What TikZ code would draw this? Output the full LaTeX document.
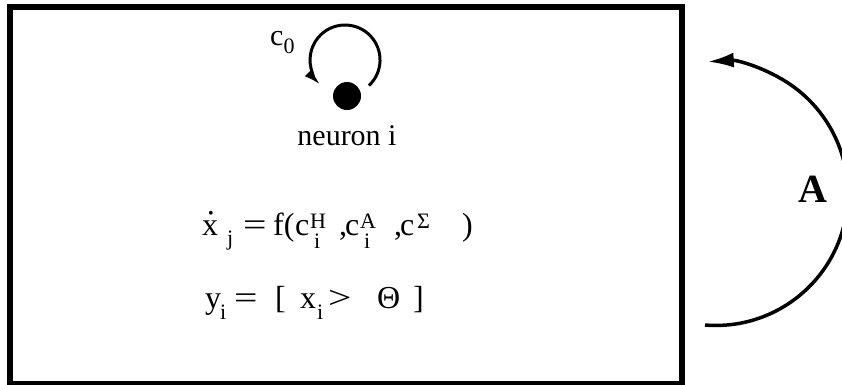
\documentclass[tikz,border=0pt]{standalone}
\usepackage{fontspec}
\setmainfont{Liberation Serif}
\usetikzlibrary{arrows.meta}
\newcommand\scr{\fontsize{22}{22}\selectfont}
\newcommand\lo[2][11pt]{\raisebox{-#1}{\scr #2}}
\newcommand\hi[1]{\raisebox{7pt}{\scr #1}}
\newcommand\sh[2]{\rlap{\hspace{4pt}\lo[13pt]{#1}}\hi{#2}}
\newcommand\pc[2]{\makebox[#1pt][l]{#2}}
\newcommand\wide[1]{\scalebox{1.3}[1]{#1}}
\newcommand\dotx{\rlap{\hspace{6pt}\raisebox{17pt}{\fontsize{16}{16}\selectfont •}}x}
\tikzset{
  frame/.style={draw, line width=6pt},
  txt/.style={inner sep=0pt, font=\fontsize{30}{36}\selectfont},
  eqn/.style={inner sep=0pt, font=\fontsize{32}{38}\selectfont},
  bigA/.style={inner sep=0pt, font=\fontsize{40}{48}\selectfont\bfseries},
  loopline/.style={line width=3pt, -{Latex[length=17pt,width=10pt]}},
  feedback/.style={line width=3.5pt, -{Latex[length=26pt,width=15pt]}}
}
\begin{document}
\begin{tikzpicture}[x=1pt,y=-1pt]
\useasboundingbox (0,0) rectangle (842,384);
\draw[frame] (10,7) rectangle (682,384);
% neuron
\node[circle, fill, inner sep=0pt, minimum size=28pt] (dot) at (347,96) {};
\coordinate (loopstart) at (368.9,85.6);
\draw[loopline] (loopstart) arc[start angle=47, end angle=-225, radius=35];
\node[txt, anchor=base west] (c0) at (270,45) {c\lo[8pt]{0}};
\node[txt, anchor=base] (lbl) at (347,145) {neuron i};
% equations
\node[eqn, anchor=base west] (eq1) at (202,235) {\pc{25}{\dotx}\pc{16}{\lo[10pt]{j}}\pc{30}{\wide{=}}\pc{22}{f(}\pc{15}{c}\pc{29}{\sh{i}{H}}\pc{6}{,}\pc{15}{c}\pc{34}{\sh{i}{A}}\pc{6}{,}\pc{17}{c}\pc{45}{\hi{Σ}})};
\node[eqn, anchor=base west] (eq2) at (205,308) {\pc{15}{y}\pc{14}{\lo{i}}\pc{41}{\wide{=}}\pc{25}{[}\pc{17}{x}\pc{11}{\lo{i}}\pc{49}{\wide{>}}\pc{36}{Θ}]};
% feedback arc A
\coordinate (fbstart) at (705,325);
\draw[feedback] (fbstart) arc[start angle=94.7, end angle=-93.5, radius=132];
\node[bigA] (A) at (813,189) {A};
\end{tikzpicture}
\end{document}
